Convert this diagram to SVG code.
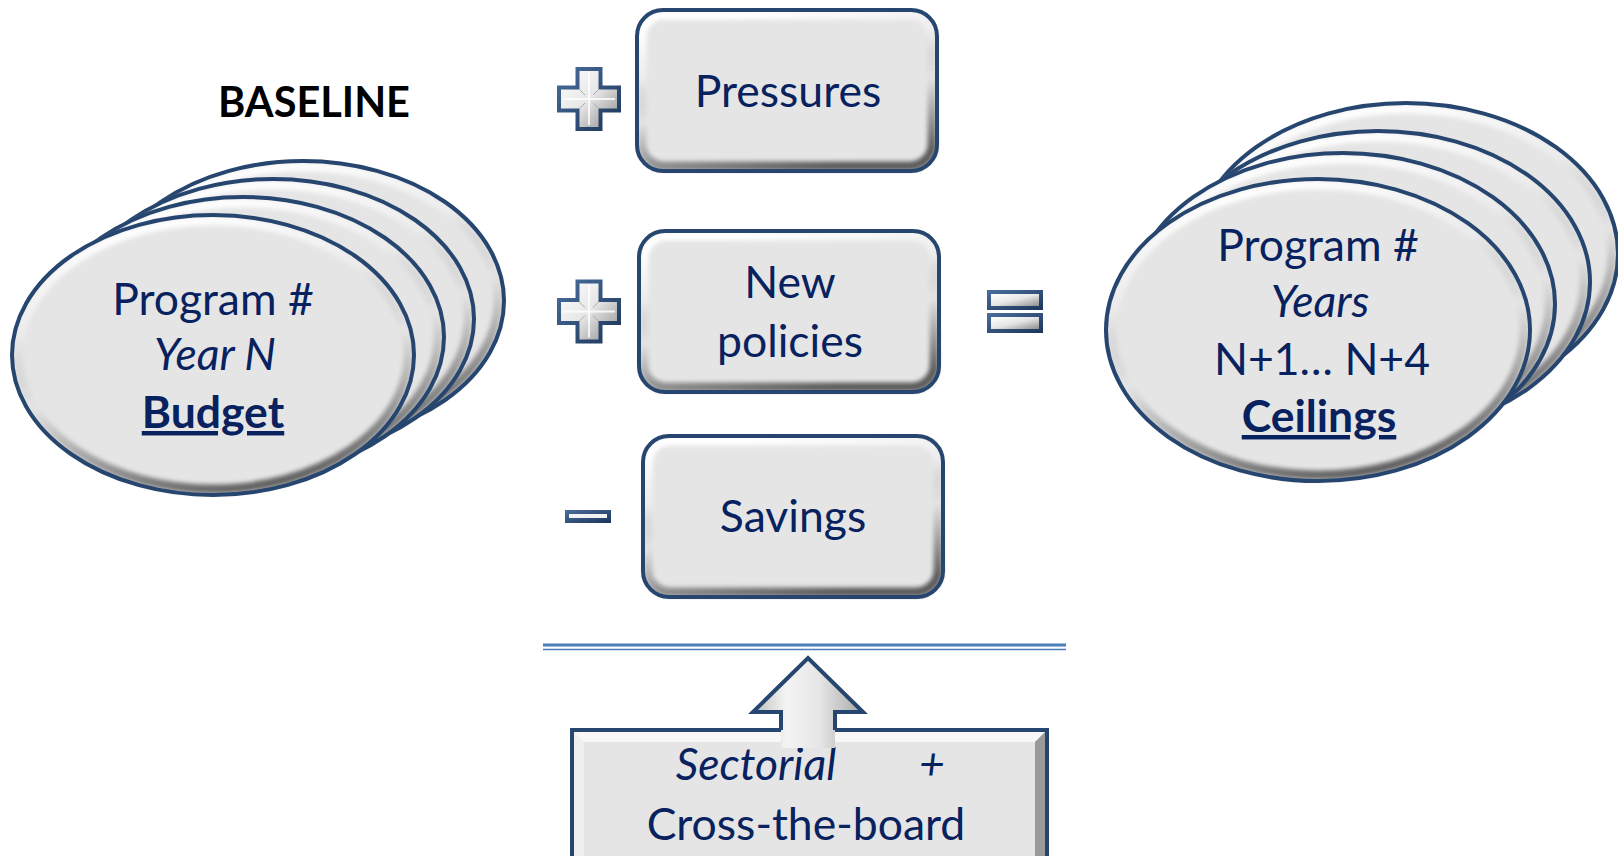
<svg xmlns="http://www.w3.org/2000/svg" width="1618" height="856" viewBox="0 0 1618 856">
<style>
.t{font-family:Lato,"Open Sans","Liberation Sans",sans-serif;font-size:44.5px;fill:#08215f;text-anchor:middle}
.it{font-style:italic}
.b{font-weight:bold}
.u{text-decoration:underline}
.base{fill:#e5e5e5}
.bev{fill:none;stroke:url(#bevG);filter:url(#soft)}
.edge{fill:none;stroke:#27466f;stroke-width:4}
</style>
<defs>
<linearGradient id="bevG" x1="0.35" y1="0" x2="0.65" y2="1">
<stop offset="0" stop-color="#fff" stop-opacity="1"/>
<stop offset="0.3" stop-color="#fff" stop-opacity="0.25"/>
<stop offset="0.55" stop-color="#000" stop-opacity="0"/>
<stop offset="1" stop-color="#000" stop-opacity="0.6"/>
</linearGradient>
<filter id="soft" x="-5%" y="-5%" width="110%" height="110%"><feGaussianBlur stdDeviation="2"/></filter>
<linearGradient id="signIn" x1="0" y1="0" x2="1" y2="1">
<stop offset="0" stop-color="#ffffff"/>
<stop offset="0.5" stop-color="#e6e6e6"/>
<stop offset="1" stop-color="#8e8e8e"/>
</linearGradient>
<linearGradient id="signOut" x1="0" y1="0" x2="1" y2="1">
<stop offset="0" stop-color="#4a6f9e"/>
<stop offset="1" stop-color="#1c3558"/>
</linearGradient>
<linearGradient id="arrowG" x1="0" y1="0" x2="1" y2="0">
<stop offset="0" stop-color="#bdbdbd"/>
<stop offset="0.3" stop-color="#f4f4f4"/>
<stop offset="0.6" stop-color="#e6e6e6"/>
<stop offset="1" stop-color="#a8a8a8"/>
</linearGradient>
<g id="disc">
<ellipse class="base" cx="0" cy="0" rx="201" ry="140"/>
<ellipse class="bev" cx="0" cy="0" rx="195" ry="134" stroke-width="9"/>
<ellipse class="edge" cx="0" cy="0" rx="201" ry="140"/>
</g>
<g id="discR">
<ellipse class="base" cx="0" cy="0" rx="212" ry="151"/>
<ellipse class="bev" cx="0" cy="0" rx="206" ry="145" stroke-width="9"/>
<ellipse class="edge" cx="0" cy="0" rx="212" ry="151"/>
</g>
<g id="box">
<rect class="base" x="0" y="0" width="300" height="161" rx="26"/>
<rect class="bev" x="5" y="5" width="290" height="151" rx="22" stroke-width="9"/>
<rect class="edge" x="0" y="0" width="300" height="161" rx="26"/>
</g>
<g id="plus">
<polygon fill="url(#signOut)" points="-13.5,-32 13.5,-32 13.5,-13.5 32,-13.5 32,13.5 13.5,13.5 13.5,32 -13.5,32 -13.5,13.5 -32,13.5 -32,-13.5 -13.5,-13.5"/>
<polygon fill="url(#signIn)" points="-9.5,-28 9.5,-28 9.5,-9.5 28,-9.5 28,9.5 9.5,9.5 9.5,28 -9.5,28 -9.5,9.5 -28,9.5 -28,-9.5 -9.5,-9.5"/>
<path d="M0,-26V26M-26,0H26" stroke="#fff" stroke-width="2" opacity="0.8"/>
<path d="M-9.5,-9.5L-4,-4M9.5,9.5L4,4M9.5,-9.5L4,-4M-9.5,9.5L-4,4" stroke="#aaa" stroke-width="1"/>
</g>
<g id="bar">
<rect x="0" y="0" width="56" height="20" fill="url(#signOut)"/>
<rect x="4" y="4" width="48" height="12" fill="url(#signIn)"/>
</g>
</defs>

<g id="baseline-label">
<text x="314" y="117" text-anchor="middle" font-family="Lato,'Open Sans','Liberation Sans',sans-serif" font-size="41.5" font-weight="bold" fill="#000">BASELINE</text>
</g>

<g id="budget-stack">
<use href="#disc" x="303" y="301"/>
<use href="#disc" x="273" y="319"/>
<use href="#disc" x="243" y="337"/>
<use href="#disc" x="213" y="355"/>
<text class="t" x="213" y="315">Program #</text>
<text class="t it" x="215" y="370">Year N</text>
<text class="t b u" x="213" y="428">Budget</text>
</g>

<g id="plus-1"><use href="#plus" x="589" y="99"/></g>
<g id="pressures">
<use href="#box" x="637" y="10"/>
<text class="t" x="788" y="107">Pressures</text>
</g>

<g id="plus-2"><use href="#plus" x="589" y="311.5"/></g>
<g id="new-policies">
<use href="#box" x="639" y="231"/>
<text class="t" x="790" y="298">New</text>
<text class="t" x="790" y="357">policies</text>
</g>

<g id="minus">
<rect x="565" y="510" width="46" height="13" fill="url(#signOut)"/>
<rect x="569" y="514" width="38" height="4" fill="#f2f2f2"/>
</g>
<g id="savings">
<use href="#box" x="643" y="436"/>
<text class="t" x="793" y="532">Savings</text>
</g>

<g id="equals">
<use href="#bar" x="987" y="290"/>
<use href="#bar" x="987" y="313"/>
</g>

<g id="ceilings-stack">
<use href="#discR" x="1406" y="254"/>
<use href="#discR" x="1378" y="282"/>
<use href="#discR" x="1343" y="304"/>
<use href="#discR" x="1318" y="330"/>
<text class="t" x="1318" y="261">Program #</text>
<text class="t it" x="1320" y="317">Years</text>
<text class="t" x="1322" y="375" font-size="42">N+1… N+4</text>
<text class="t b u" x="1319" y="432" font-size="43">Ceilings</text>
</g>

<g id="measures">
<rect x="572" y="730" width="475" height="160" fill="#e5e5e5"/>
<polygon points="572,730 1047,730 1035,742 584,742" fill="#f7f7f7"/>
<polygon points="572,730 584,742 584,890 572,890" fill="#efefef"/>
<polygon points="1047,730 1035,742 1035,890 1047,890" fill="#9a9a9a"/>
<rect x="572" y="730" width="475" height="160" fill="none" stroke="#27466f" stroke-width="4"/>
<text class="t it" x="756" y="780" font-size="46">Sectorial</text>
<text class="t it" x="932" y="780" font-size="46">+</text>
<text class="t" x="806" y="840" font-size="44">Cross-the-board</text>
</g>

<g id="connectors">
<line x1="543" y1="645" x2="1066" y2="645" stroke="#4a7ebb" stroke-width="3"/>
<line x1="543" y1="649.5" x2="1066" y2="649.5" stroke="#4a7ebb" stroke-width="1.3"/>
<polygon points="808,658 863,712 835,712 835,748 781,748 781,712 753,712" fill="url(#arrowG)"/>
<polyline points="781,730 781,712 753,712 808,658 863,712 835,712 835,730" fill="none" stroke="#27466f" stroke-width="4" stroke-linejoin="miter"/>
</g>
</svg>
